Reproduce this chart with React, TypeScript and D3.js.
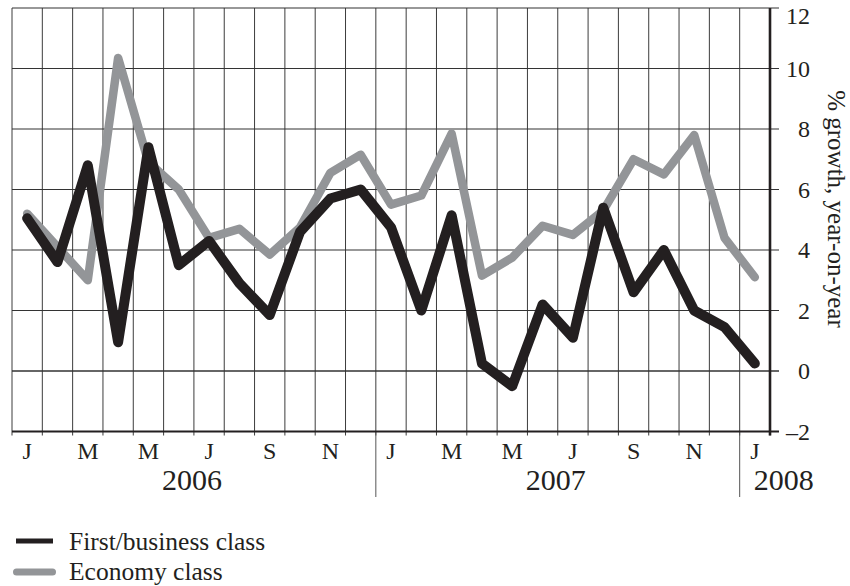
import React, { useEffect, useRef } from 'react';
import * as d3 from 'd3';

// monthly series, Jan 2006 .. Jan 2008
const months = ['J', 'F', 'M', 'A', 'M', 'J', 'J', 'A', 'S', 'O', 'N', 'D',
  'J', 'F', 'M', 'A', 'M', 'J', 'J', 'A', 'S', 'O', 'N', 'D', 'J'];
const firstBusiness = [5.05, 3.6, 6.8, 0.95, 7.4, 3.5, 4.3, 2.9, 1.85, 4.6, 5.7, 6.0,
  4.75, 2.0, 5.15, 0.25, -0.5, 2.2, 1.1, 5.4, 2.6, 4.0, 2.0, 1.45, 0.25];
const economy = [5.2, 4.1, 3.0, 10.35, 6.9, 6.0, 4.4, 4.7, 3.85, 4.75, 6.55, 7.15,
  5.5, 5.8, 7.85, 3.15, 3.75, 4.8, 4.5, 5.3, 7.0, 6.5, 7.8, 4.4, 3.1];
const years = ['2006', '2007', '2008'];
const yearStart = [0, 12, 24];
const yTicks = [-2, 0, 2, 4, 6, 8, 10, 12];
const legendLabels = ['First/business class', 'Economy class'];

const BLACK = '#231f20';
const GREY = '#939598';

const App: React.FC = () => {
  const svgRef = useRef<SVGSVGElement>(null);

  useEffect(() => {
    if (!svgRef.current) return;
    const svg = d3.select(svgRef.current);
    svg.selectAll('*').remove();

    const left = 12, right = 770, top = 8, bottom = 431.5;
    const font = '"Liberation Serif", "Times New Roman", serif';

    const x = d3.scaleBand<number>()
      .domain(months.map((_, i) => i))
      .range([left, right])
      .padding(0);
    const bw = x.bandwidth();
    const cx = (i: number) => (x(i) || 0) + bw / 2;

    const y = d3.scaleLinear().domain([-2, 12]).range([bottom, top]);

    // vertical grid (month boundaries)
    const bounds = d3.range(months.length + 1).map(i => left + i * bw);
    svg.append('g')
      .selectAll('line')
      .data(bounds)
      .enter()
      .append('line')
      .attr('x1', d => d).attr('x2', d => d)
      .attr('y1', top).attr('y2', bottom + 4)
      .attr('stroke', '#3c3c3c')
      .attr('stroke-width', 1);

    // horizontal grid
    svg.append('g')
      .selectAll('line')
      .data(yTicks.filter(t => t > -2))
      .enter()
      .append('line')
      .attr('x1', left).attr('x2', right + 9)
      .attr('y1', d => y(d)).attr('y2', d => y(d))
      .attr('stroke', '#333')
      .attr('stroke-width', d => (d === 0 ? 1.6 : 1.2));

    // year separators below axis
    svg.append('g')
      .selectAll('line')
      .data(yearStart.slice(1))
      .enter()
      .append('line')
      .attr('x1', d => x(d) || 0).attr('x2', d => x(d) || 0)
      .attr('y1', bottom).attr('y2', 497)
      .attr('stroke', '#555')
      .attr('stroke-width', 1);

    // bottom axis + right axis
    svg.append('line')
      .attr('x1', left).attr('x2', right + 9)
      .attr('y1', bottom).attr('y2', bottom)
      .attr('stroke', BLACK).attr('stroke-width', 2.2);
    svg.append('line')
      .attr('x1', right).attr('x2', right)
      .attr('y1', top).attr('y2', bottom + 4)
      .attr('stroke', BLACK).attr('stroke-width', 2.6);

    // right tick labels
    svg.append('g')
      .selectAll('text')
      .data(yTicks)
      .enter()
      .append('text')
      .attr('x', 810)
      .attr('y', d => Math.max(y(d), 16))
      .attr('dy', '0.35em')
      .attr('text-anchor', 'end')
      .style('font-family', font)
      .style('font-size', '24px')
      .attr('fill', BLACK)
      .text(d => (d < 0 ? '\u2013' + Math.abs(d) : String(d)));

    // axis title
    svg.append('text')
      .attr('transform', 'translate(828,209) rotate(90)')
      .attr('text-anchor', 'middle')
      .style('font-family', font)
      .style('font-size', '25px')
      .attr('fill', BLACK)
      .text('% growth, year-on-year');

    // month labels
    svg.append('g')
      .selectAll('text')
      .data(months.map((m, i) => ({ m, i })).filter(d => d.i % 2 === 0))
      .enter()
      .append('text')
      .attr('x', d => cx(d.i))
      .attr('y', 459)
      .attr('text-anchor', 'middle')
      .style('font-family', font)
      .style('font-size', '24px')
      .attr('fill', BLACK)
      .text(d => d.m);

    // year labels
    svg.append('g')
      .selectAll('text')
      .data(years.map((yr, k) => ({ yr, k })))
      .enter()
      .append('text')
      .attr('x', d => {
        const s = yearStart[d.k];
        const e = d.k + 1 < yearStart.length ? yearStart[d.k + 1] : months.length;
        return d.k === years.length - 1 ? cx(s) - 1 : ((x(s) || 0) + (x(e) || right)) / 2 - 2;
      })
      .attr('y', 490)
      .attr('text-anchor', d => (d.k === years.length - 1 ? 'start' : 'middle'))
      .style('font-family', font)
      .style('font-size', '30px')
      .attr('fill', BLACK)
      .text(d => d.yr);

    // series lines
    const line = d3.line<number>()
      .x((_, i) => cx(i))
      .y(d => y(d));

    svg.append('path')
      .datum(economy)
      .attr('d', line)
      .attr('fill', 'none')
      .attr('stroke', GREY)
      .attr('stroke-width', 8.5)
      .attr('stroke-linejoin', 'round')
      .attr('stroke-linecap', 'round');

    svg.append('path')
      .datum(firstBusiness)
      .attr('d', line)
      .attr('fill', 'none')
      .attr('stroke', BLACK)
      .attr('stroke-width', 10)
      .attr('stroke-linejoin', 'round')
      .attr('stroke-linecap', 'round');

    // legend
    const lg = svg.append('g');
    lg.append('line')
      .attr('x1', 16).attr('x2', 53)
      .attr('y1', 541).attr('y2', 541)
      .attr('stroke', BLACK).attr('stroke-width', 5);
    lg.append('line')
      .attr('x1', 16.5).attr('x2', 52.5)
      .attr('y1', 572).attr('y2', 572)
      .attr('stroke', GREY).attr('stroke-width', 7)
      .attr('stroke-linecap', 'round');
    lg.selectAll('text')
      .data(legendLabels)
      .enter()
      .append('text')
      .attr('x', 69)
      .attr('y', (_, i) => 549.5 + i * 30)
      .style('font-family', font)
      .style('font-size', '25.5px')
      .attr('fill', BLACK)
      .text(d => d);
  }, []);

  return (
    <svg
      ref={svgRef}
      width={850}
      height={586}
      style={{ position: 'absolute', left: 0, top: 0, background: '#fff' }}
    />
  );
};

export default App;
